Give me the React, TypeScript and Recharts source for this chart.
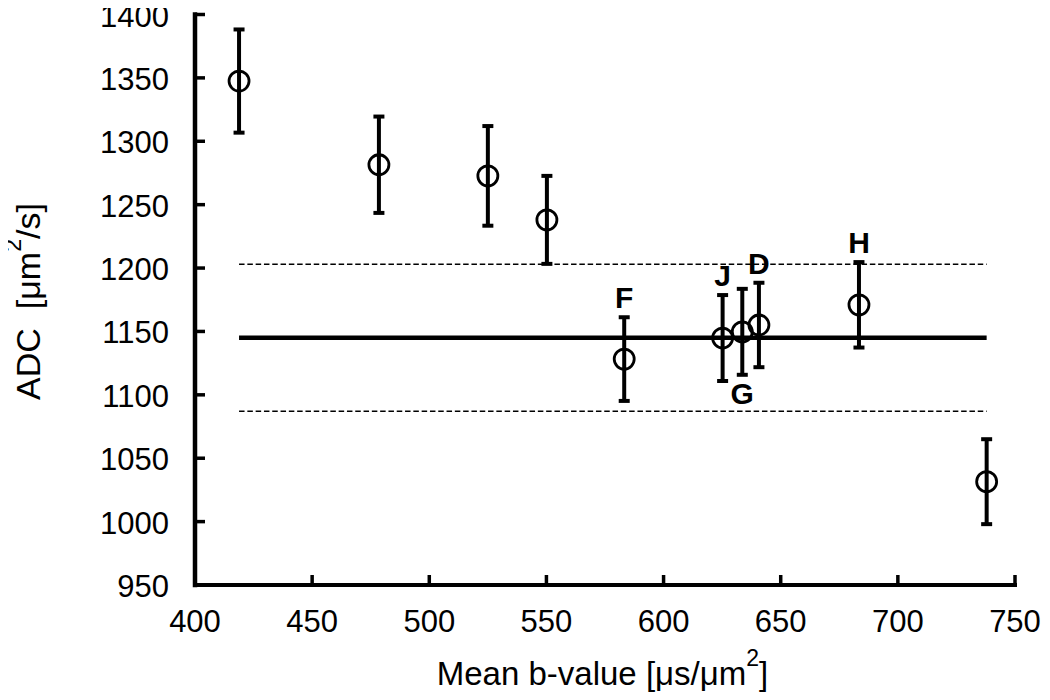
import React from 'react';
import { ScatterChart, Scatter, XAxis, YAxis, ErrorBar, ReferenceLine } from 'recharts';

const bValues = [418.8, 478.5, 525.0, 550.2, 583.2, 625.2, 633.6, 640.7, 683.4, 737.9];
const adcValues = [1347.5, 1281.5, 1272.7, 1238.0, 1128.2, 1144.8, 1149.7, 1155.1, 1171.0, 1031.5];
const adcErrors = [40.7, 38.0, 39.3, 34.7, 33.0, 33.9, 33.9, 33.3, 33.7, 33.5];
const pointLabels = ['', '', '', '', 'F', 'J', 'G', 'D', 'H', ''];
const labelSides = ['', '', '', '', 'top', 'top', 'bottom', 'top', 'top', ''];
const meanADC = 1145;
const upperADC = 1203;
const lowerADC = 1087;
const xTicks = [400, 450, 500, 550, 600, 650, 700, 750];
const yTicks = [950, 1000, 1050, 1100, 1150, 1200, 1250, 1300, 1350, 1400];

const FONT = '"Liberation Sans", Arial, Helvetica, sans-serif';

const points = bValues.map((x, i) => ({ x, y: adcValues[i], err: adcErrors[i] }));
const labelPoints = pointLabels
  .map((t, i) => ({ t, i }))
  .filter((d) => d.t)
  .map(({ t, i }) => ({
    x: bValues[i],
    y: labelSides[i] === 'top' ? adcValues[i] + adcErrors[i] : adcValues[i] - adcErrors[i],
    text: t,
    side: labelSides[i],
  }));
const xMin = Math.min(...bValues);
const xMax = Math.max(...bValues);

const XTick = (props: any) => {
  const { x, y, payload } = props;
  return (
    <g>
      <line x1={x} y1={y} x2={x} y2={y - 10} stroke="#000" strokeWidth={3.5} />
      <text x={x} y={y + 47} textAnchor="middle" fontFamily={FONT} fontSize={31} fill="#000">
        {payload.value}
      </text>
    </g>
  );
};

const YTick = (props: any) => {
  const { x, y, payload } = props;
  return (
    <g>
      <line x1={x} y1={y} x2={x + 10} y2={y} stroke="#000" strokeWidth={3.5} />
      <text x={x - 26} y={y + 12} textAnchor="end" fontFamily={FONT} fontSize={31} fill="#000">
        {payload.value}
      </text>
    </g>
  );
};

const Marker = (props: any) => {
  const { cx, cy } = props;
  return <circle cx={cx} cy={cy} r={10} fill="none" stroke="#000" strokeWidth={2.8} />;
};

const LabelMark = (props: any) => {
  const { cx, cy, payload } = props;
  const ty = payload.side === 'top' ? cy - 9 : cy + 29;
  return (
    <text x={cx} y={ty} textAnchor="middle" fontFamily={FONT} fontSize={30} fontWeight="bold" fill="#000">
      {payload.text}
    </text>
  );
};

const YLabel = () => (
  <text
    x={40}
    y={301.5}
    transform="rotate(-90 40 301.5)"
    textAnchor="middle"
    fontFamily={FONT}
    fontSize={34}
    fill="#000"
  >
    ADC{'\u00a0\u00a0'}[μm
    <tspan dy={-19} fontSize={23}>2</tspan>
    <tspan dy={19}>/s]</tspan>
  </text>
);

const XLabel = () => (
  <text x={602.5} y={685} textAnchor="middle" fontFamily={FONT} fontSize={33} fill="#000">
    Mean b-value [μs/μm
    <tspan dy={-19} fontSize={23}>2</tspan>
    <tspan dy={19}>]</tspan>
  </text>
);

export default function App() {
  return (
    <div style={{ marginLeft: -8, marginTop: -8, width: 1050, height: 700 }}>
      <ScatterChart width={1050} height={700} margin={{ top: 14.5, right: 35, bottom: 35, left: 0 }}>
        <XAxis
          type="number"
          dataKey="x"
          domain={[400, 750]}
          ticks={xTicks}
          interval={0}
          height={80}
          tickSize={0}
          tickMargin={0}
          tickLine={false}
          tick={<XTick />}
          axisLine={{ stroke: '#000', strokeWidth: 4, strokeLinecap: 'square' }}
          label={{ content: () => <XLabel /> }}
        />
        <YAxis
          type="number"
          dataKey="y"
          domain={[950, 1400]}
          ticks={yTicks}
          interval={0}
          width={195}
          tickSize={0}
          tickMargin={0}
          tickLine={false}
          tick={<YTick />}
          axisLine={{ stroke: '#000', strokeWidth: 4.5, strokeLinecap: 'square' }}
          label={{ content: () => <YLabel /> }}
        />
        <ReferenceLine
          segment={[{ x: xMin, y: upperADC }, { x: xMax, y: upperADC }]}
          stroke="#000"
          strokeWidth={1.5}
          strokeDasharray="5.5 2.8"
        />
        <ReferenceLine
          segment={[{ x: xMin, y: lowerADC }, { x: xMax, y: lowerADC }]}
          stroke="#000"
          strokeWidth={1.5}
          strokeDasharray="5.5 2.8"
        />
        <ReferenceLine
          segment={[{ x: xMin, y: meanADC }, { x: xMax, y: meanADC }]}
          stroke="#000"
          strokeWidth={4.5}
        />
        <Scatter data={points} shape={<Marker />} isAnimationActive={false}>
          <ErrorBar dataKey="err" direction="y" width={5.5} stroke="#000" strokeWidth={4} />
        </Scatter>
        <Scatter data={labelPoints} shape={<LabelMark />} isAnimationActive={false} />
      </ScatterChart>
    </div>
  );
}
